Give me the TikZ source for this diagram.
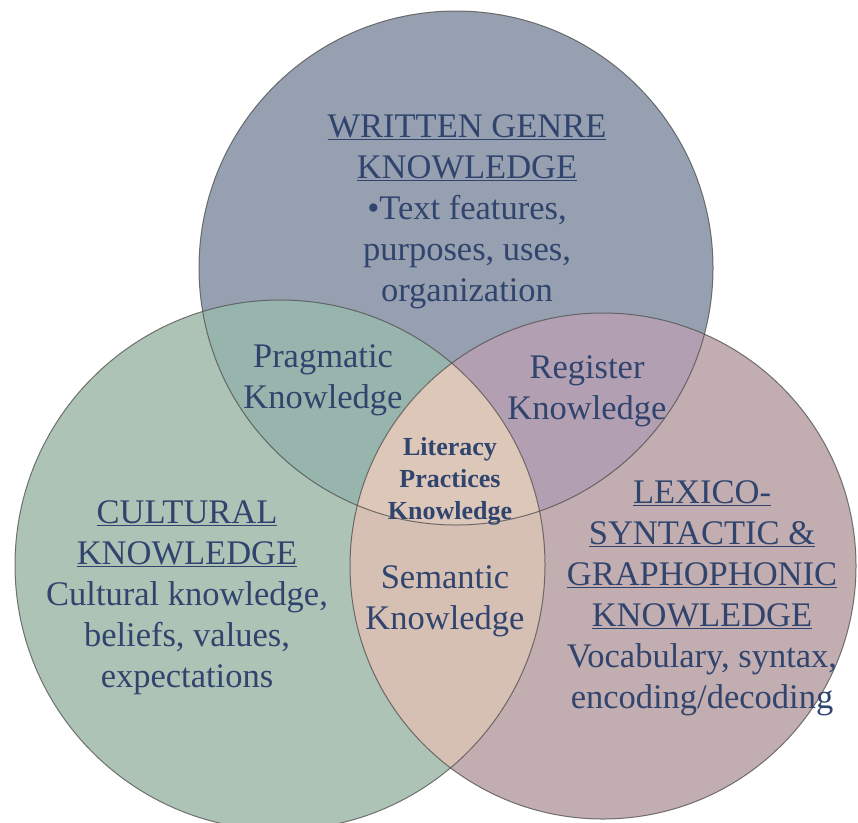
\documentclass[tikz,border=0pt]{standalone}
\usepackage{fontspec}
\setmainfont{Liberation Serif}
\usetikzlibrary{positioning}

\definecolor{topfill}{RGB}{150,160,176}
\definecolor{leftfill}{RGB}{173,195,181}
\definecolor{rightfill}{RGB}{194,173,176}
\definecolor{topleftfill}{RGB}{151,181,173}
\definecolor{toprightfill}{RGB}{178,160,178}
\definecolor{lowfill}{RGB}{214,191,179}
\definecolor{corefill}{RGB}{220,199,185}
\definecolor{inktext}{RGB}{48,68,110}

\newcommand{\topdisk}{(456,268) circle (257pt)}
\newcommand{\leftdisk}{(280,565) circle (265pt)}
\newcommand{\rightdisk}{(603,566) circle (253pt)}

\begin{document}
\begin{tikzpicture}[x=1pt,y=-1pt]

\tikzstyle{every node}=[text=inktext, align=center, inner sep=0pt,
	font=\fontsize{34.5}{41}\selectfont]
\tikzstyle{core}=[font=\bfseries\fontsize{26}{32}\selectfont]
\tikzstyle{rim}=[draw=black!70, draw opacity=0.75, line width=1pt]

\useasboundingbox[fill=white] (0,0) rectangle (858,822);

% the three discs
\fill[topfill] \topdisk;
\fill[leftfill] \leftdisk;
\fill[rightfill] \rightdisk;

% overlaps
\begin{scope}
	\clip \topdisk;
	\fill[topleftfill] \leftdisk;
	\fill[toprightfill] \rightdisk;
\end{scope}
\begin{scope}
	\clip \leftdisk;
	\fill[lowfill] \rightdisk;
	\clip \topdisk;
	\fill[corefill] \rightdisk;
\end{scope}

\draw[rim] \topdisk;
\draw[rim] \leftdisk;
\draw[rim] \rightdisk;

% labels
\node (genre) at (467,212)
	{\underline{WRITTEN GENRE}\\
	 \underline{KNOWLEDGE}\\
	 •Text features,\\
	 purposes, uses,\\
	 organization};
\node (culture) at (187,598)
	{\underline{CULTURAL}\\
	 \underline{KNOWLEDGE}\\
	 Cultural knowledge,\\
	 beliefs, values,\\
	 expectations};
\node (lexico) at (702,598)
	{\underline{LEXICO-}\\
	 \underline{SYNTACTIC \&}\\
	 \underline{GRAPHOPHONIC}\\
	 \underline{KNOWLEDGE}\\
	 Vocabulary, syntax,\\
	 encoding/decoding};
\node (pragmatic) at (323,380) {Pragmatic\\ Knowledge};
\node (register) at (587,391) {Register\\ Knowledge};
\node (semantic) at (445,601) {Semantic\\ Knowledge};
\node[core] (literacy) at (450,481) {Literacy\\ Practices\\ Knowledge};

\end{tikzpicture}
\end{document}
